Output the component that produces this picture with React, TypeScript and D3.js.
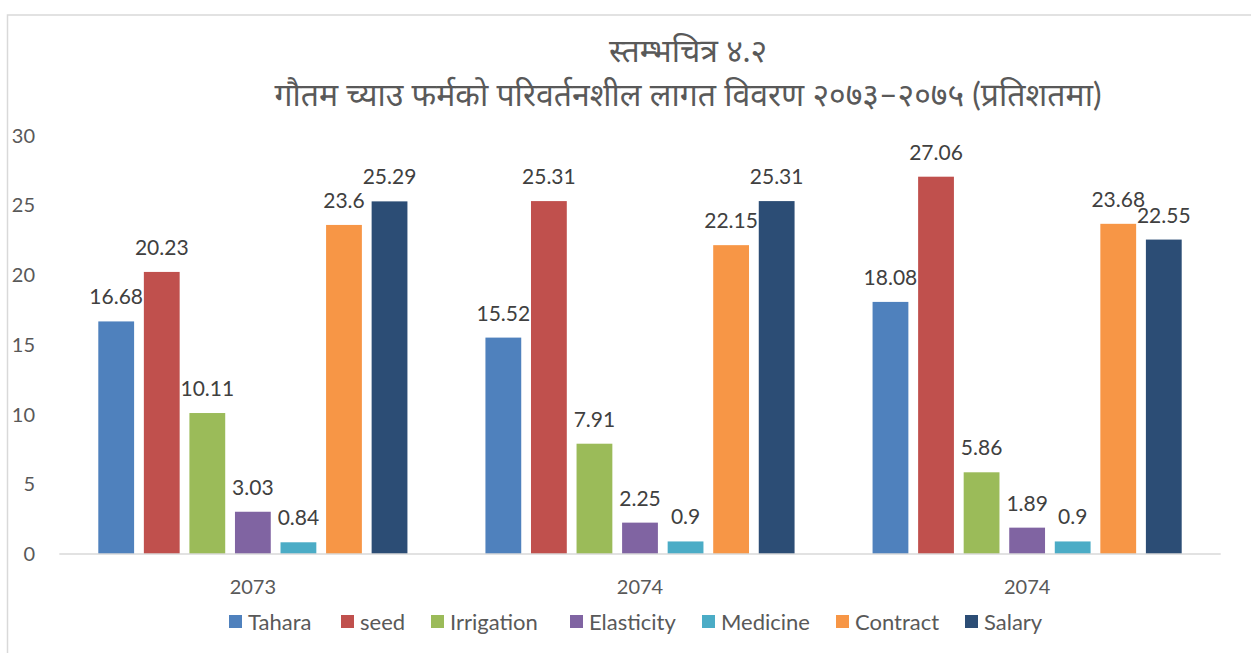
import React, { useEffect } from "react";
import * as d3 from "d3";

const categories = ["2073", "2074", "2074"];
const seriesNames = ["Tahara", "seed", "Irrigation", "Elasticity", "Medicine", "Contract", "Salary"];
const seriesColors = ["#4F81BD", "#C0504D", "#9BBB59", "#8064A2", "#4BACC6", "#F79646", "#2C4D75"];
const values2073 = [16.68, 20.23, 10.11, 3.03, 0.84, 23.6, 25.29];
const values2074a = [15.52, 25.31, 7.91, 2.25, 0.9, 22.15, 25.31];
const values2074b = [18.08, 27.06, 5.86, 1.89, 0.9, 23.68, 22.55];
const yTicks = [0, 5, 10, 15, 20, 25, 30];
const titleLine1 = "स्तम्भचित्र ४.२";
const titleLine2 = "गौतम च्याउ फर्मको परिवर्तनशील लागत विवरण २०७३–२०७५ (प्रतिशतमा)";
const legendX = [229, 341, 431, 570, 702, 836, 965];

const W = 1251;
const H = 653;
const plotLeft = 59.3;
const plotRight = 1220.7;
const plotBottom = 554;
const plotTop = 135.7;
const FONT = "Lato, 'Noto Sans', sans-serif";

export default function App() {
  useEffect(() => {
    document.body.style.margin = "0";
  }, []);
  const data = [values2073, values2074a, values2074b];
  const x0 = d3.scaleBand<number>().domain(categories.map((_, i) => i)).range([plotLeft, plotRight]).padding(0);
  const cw = x0.bandwidth();
  const outer = 39;
  const x1 = d3
    .scaleBand<number>()
    .domain(seriesNames.map((_, i) => i))
    .range([outer, cw - outer])
    .paddingInner(0.214)
    .paddingOuter(0);
  const y = d3.scaleLinear().domain([0, 30]).range([plotBottom, plotTop]);

  return (
    <svg width={W} height={H} style={{ display: "block", background: "#fff" }} fontFamily={FONT}>
      <rect x={7.5} y={15} width={1400} height={800} fill="#fff" stroke="#d9d9d9" strokeWidth={1.5} />
      <text x={688} y={62} textAnchor="middle" fontSize={32} fill="#595959">
        {titleLine1}
      </text>
      <text x={688} y={106} textAnchor="middle" fontSize={32} fill="#595959">
        {titleLine2}
      </text>
      {yTicks.map((t) => (
        <text key={t} x={35} y={y(t)} dy="0.35em" textAnchor="end" fontSize={20} fill="#595959">
          {t}
        </text>
      ))}
      {data.map((vals, ci) => (
        <g key={ci} transform={`translate(${x0(ci)},0)`}>
          {vals.map((v, si) => (
            <g key={si}>
              <rect
                x={x1(si)}
                y={y(v)}
                width={x1.bandwidth()}
                height={plotBottom - y(v)}
                fill={seriesColors[si]}
              />
              <text
                x={(x1(si) as number) + x1.bandwidth() / 2}
                y={y(v) - 17}
                textAnchor="middle"
                fontSize={21}
                fill="#404040"
              >
                {String(v)}
              </text>
            </g>
          ))}
          <text x={cw / 2} y={594} textAnchor="middle" fontSize={20} fill="#595959">
            {categories[ci]}
          </text>
        </g>
      ))}
      <line x1={plotLeft} x2={plotRight} y1={plotBottom} y2={plotBottom} stroke="#d9d9d9" strokeWidth={1.5} />
      {seriesNames.map((n, i) => (
        <g key={n} transform={`translate(${legendX[i]},0)`}>
          <rect x={0} y={615} width={13} height={13} fill={seriesColors[i]} />
          <text x={19} y={629.5} fontSize={22} fill="#595959">
            {n}
          </text>
        </g>
      ))}
    </svg>
  );
}
